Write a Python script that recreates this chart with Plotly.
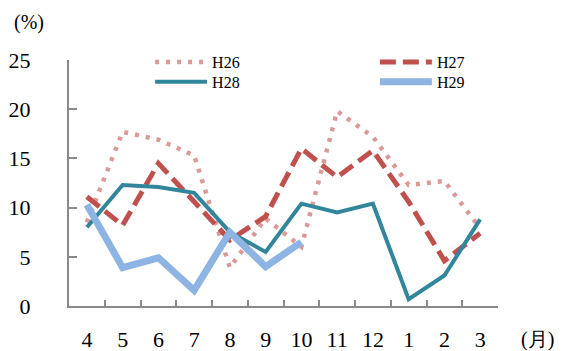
import plotly.graph_objects as go

months = ["4", "5", "6", "7", "8", "9", "10", "11", "12", "1", "2", "3"]
h26 = [8.5, 17.7, 16.9, 15.3, 3.9, 8.9, 6.0, 19.8, 17.2, 12.3, 12.7, 7.9]
h27 = [11.1, 8.2, 14.5, 10.6, 6.7, 9.1, 16.0, 13.1, 15.8, 10.6, 4.6, 7.4]
h28 = [8.0, 12.3, 12.1, 11.5, 7.5, 5.5, 10.4, 9.5, 10.4, 0.7, 3.1, 8.8]
h29 = [10.3, 3.9, 4.9, 1.6, 7.5, 4.0, 6.5]
y_ticks = [0, 5, 10, 15, 20, 25]

SERIF = "Liberation Serif"

fig = go.Figure()
fig.add_trace(go.Scatter(x=months, y=h26, name="H26", mode="lines",
                         line=dict(color="#DB9A98", width=4.5, dash="4px,7px"),
                         legend="legend2"))
fig.add_trace(go.Scatter(x=months, y=h27, name="H27", mode="lines",
                         line=dict(color="#C0504D", width=5, dash="16px,7px"),
                         legend="legend3"))
fig.add_trace(go.Scatter(x=months, y=h28, name="H28", mode="lines",
                         line=dict(color="#31869B", width=4),
                         legend="legend4"))
fig.add_trace(go.Scatter(x=months[:len(h29)], y=h29, name="H29", mode="lines",
                         line=dict(color="#8DB4E2", width=7),
                         legend="legend5"))


def leg(x, y):
    return dict(x=x, y=y, xanchor="left", yanchor="top",
                font=dict(size=16, family=SERIF),
                bgcolor="rgba(0,0,0,0)", itemwidth=52)


fig.update_layout(
    width=565, height=351,
    margin=dict(l=69, r=67, t=60, b=45, autoexpand=False),
    paper_bgcolor="white", plot_bgcolor="white",
    showlegend=True,
    legend=dict(visible=False),
    legend2=leg(0.189, 1.061),
    legend3=leg(0.713, 1.061),
    legend4=leg(0.189, 0.980),
    legend5=leg(0.713, 0.980),
    xaxis=dict(type="category", categoryorder="array", categoryarray=months,
               range=[-0.5, 11.5], showgrid=False, zeroline=False,
               showline=True, linecolor="#898989", linewidth=2,
               ticks="inside", tickson="boundaries", ticklen=6,
               tickcolor="#898989", tickwidth=2, automargin=False,
               tickfont=dict(size=22, family=SERIF),
               ticklabelstandoff=13),
    yaxis=dict(range=[0, 25], tickvals=y_ticks, showgrid=False, zeroline=False,
               showline=True, linecolor="#898989", linewidth=2,
               ticks="inside", ticklen=8, tickcolor="#898989", tickwidth=2,
               automargin=False,
               tickfont=dict(size=22, family=SERIF),
               ticklabelstandoff=32),
    annotations=[
        dict(text="(%)", xref="paper", yref="paper", x=-0.093, y=1.154,
             xanchor="center", yanchor="middle", showarrow=False,
             font=dict(size=20, family=SERIF)),
        dict(text="(月)", xref="paper", yref="paper", x=1.091, y=-0.138,
             xanchor="center", yanchor="middle", showarrow=False,
             font=dict(size=20, family=SERIF)),
    ],
)
fig.update_layout(font_color="black")

fig.write_html("out.html", post_script="document.body.style.margin='0';"
               "var m=document.querySelector('.modebar-container');"
               "if(m){m.style.display='none';}")
